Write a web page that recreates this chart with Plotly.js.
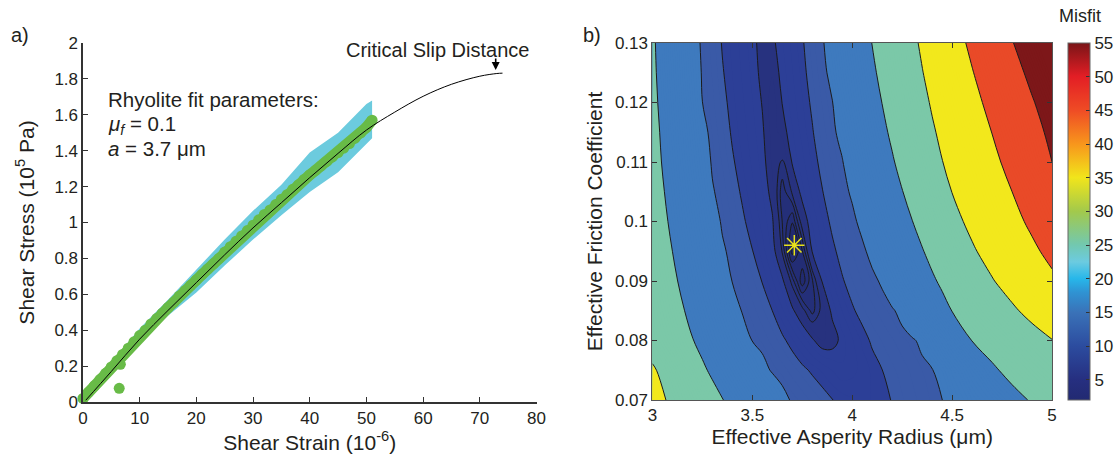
<!DOCTYPE html>
<html><head><meta charset="utf-8">
<script src="https://cdn.plot.ly/plotly-3.0.1.min.js"></script>
<style>html,body{margin:0;padding:0;background:#fff}#chart{width:1117px;height:459px}</style>
</head><body><div id="chart"></div>
<script>
// ---------- Panel a data ----------
const strain = [0,1,2,3,4,5,6,7,8,9,10,11,12,13,14,15,16,17,18,19,20,21,22,23,24,25,26,27,28,29,30,31,32,33,34,35,36,37,38,39,40,41,42,43,44,45,46,47,48,49,50,51];
const stressObs = [0.02,0.055,0.09,0.125,0.16,0.195,0.23,0.265,0.30,0.335,0.37,0.40,0.435,0.465,0.495,0.525,0.555,0.59,0.62,0.65,0.68,0.71,0.74,0.77,0.80,0.835,0.865,0.895,0.925,0.955,0.985,1.015,1.045,1.07,1.10,1.13,1.155,1.185,1.21,1.24,1.265,1.29,1.315,1.34,1.365,1.39,1.415,1.44,1.47,1.50,1.53,1.57];
const bandStrain = [0,5,10,15,20,25,30,35,40,45,50,51];
const bandLower = [0.0,0.17,0.335,0.48,0.61,0.76,0.905,1.04,1.17,1.28,1.44,1.47];
const bandUpper = [0.03,0.22,0.41,0.57,0.74,0.905,1.065,1.21,1.39,1.50,1.66,1.68];
const outlierStrain = [6.4,6.6];
const outlierStress = [0.076,0.21];
const fitStrain = [0.5,5,10,15,20,25,30,35,40,45,50,55,60,65,70,73,74];
const fitStress = [0.01,0.17,0.35,0.51,0.665,0.82,0.97,1.11,1.25,1.385,1.515,1.615,1.703,1.77,1.815,1.83,1.832];
const strainTicks = [0,10,20,30,40,50,60,70,80];

// ---------- Panel b data ----------
const radius = [3.0,3.1,3.2,3.25,3.3,3.35,3.4,3.45,3.5,3.55,3.6,3.65,3.7,3.75,3.8,3.85,3.9,3.95,4.0,4.05,4.1,4.15,4.2,4.25,4.3,4.35,4.4,4.45,4.5,4.6,4.7,4.8,4.9,5.0];
const friction = [0.07,0.075,0.08,0.085,0.09,0.095,0.10,0.105,0.11,0.115,0.12,0.125,0.13];
const misfit = [
 [32.3,28.9,25.4,23.65,21.9,20.17,18.6,16.99,15.4,13.8,12.3,10.7,9.75,9.32,8.88,8.45,8.02,7.77,7.54,7.3,7.54,7.78,8.04,8.43,8.81,9.2,9.59,9.98,11.1,13.5,15.8,18.2,20.5,22.8],
 [30.8,26.9,22.9,20.88,19.1,17.42,15.8,14.11,12.5,10.8,9.75,9.25,8.76,8.27,7.82,7.41,6.99,6.58,6.81,7.21,7.6,7.99,8.37,8.74,9.12,9.5,9.87,11.06,12.7,15.9,19.1,21.7,24.0,26.3],
 [27.2,23.7,20.2,18.47,16.7,15.0,13.3,11.53,9.93,9.37,8.8,8.24,7.58,6.86,6.14,5.47,5.6,6.27,6.93,7.6,8.16,8.54,8.93,9.32,9.71,10.5,12.4,14.38,16.3,20.1,22.5,24.9,27.4,29.8],
 [25.8,22.2,18.6,16.75,15.0,13.14,11.3,9.84,9.23,8.61,8.0,7.09,6.18,5.24,4.3,5.24,6.17,7.01,7.85,8.37,8.82,9.27,9.72,10.71,12.6,14.47,16.4,18.23,20.1,23.1,26.0,29.0,31.9,34.9],
 [24.7,21.0,17.2,15.37,13.5,11.64,9.92,9.27,8.61,7.95,7.06,6.18,4.74,3.16,4.42,6.05,6.94,7.89,8.47,9.01,9.55,10.28,12.1,13.84,15.6,17.4,19.2,20.94,22.7,26.2,29.6,32.7,35.7,38.7],
 [23.8,20.0,16.1,14.19,12.3,10.35,9.43,8.74,8.04,7.23,6.41,4.93,2.78,3.97,6.05,6.87,7.74,8.42,9.01,9.61,10.6,12.43,14.2,16.05,17.9,19.67,21.6,23.46,25.4,29.2,32.5,35.6,38.7,41.9],
 [23.1,19.1,15.2,13.17,11.2,9.7,8.96,8.22,7.51,6.81,6.11,4.48,3.54,5.35,6.57,7.45,8.25,8.9,9.55,10.56,12.4,14.31,16.2,18.05,19.9,21.93,23.9,25.94,28.0,31.6,34.8,38.0,41.3,44.5],
 [22.4,18.4,14.3,12.24,10.2,9.31,8.54,7.81,7.16,6.52,5.7,4.2,5.1,6.33,7.14,7.95,8.68,9.41,10.3,12.24,14.1,16.05,18.0,19.85,21.9,23.95,26.0,28.07,30.1,33.4,36.7,40.0,43.3,46.7],
 [21.9,17.7,13.5,11.43,9.74,8.94,8.14,7.51,6.9,6.3,5.4,4.91,6.08,6.83,7.58,8.34,9.1,9.86,11.6,13.58,15.6,17.52,19.5,21.54,23.6,25.71,27.8,29.88,31.6,35.0,38.4,42.1,46.1,50.0],
 [21.6,17.2,12.9,10.7,9.44,8.61,7.85,7.27,6.69,6.12,5.31,5.65,6.44,7.18,7.91,8.71,9.52,10.8,12.8,14.84,16.9,18.87,20.9,23.01,25.1,27.2,29.3,31.17,33.0,36.5,40.1,43.9,47.7,51.5],
 [21.2,16.7,12.2,10.01,9.16,8.32,7.65,7.09,6.53,5.95,5.2,6.03,6.74,7.45,8.19,9.05,9.91,11.9,13.9,15.97,18.0,20.08,22.2,24.3,26.4,28.52,30.6,32.43,34.3,38.1,41.8,45.7,49.5,53.3],
 [20.9,16.3,11.7,9.79,8.94,8.09,7.49,6.93,6.37,5.76,5.55,6.24,6.96,7.67,8.49,9.39,10.7,12.8,14.9,17.0,19.1,21.24,23.4,25.51,27.7,29.79,31.8,33.74,35.7,39.7,43.6,47.6,51.6,55.6],
 [20.7,16.0,11.3,9.6,8.74,7.92,7.36,6.79,6.23,5.7,5.8,6.45,7.15,7.86,8.75,9.7,11.47,13.6,15.8,17.93,20.1,22.25,24.4,26.58,28.7,30.88,33.0,35.06,37.2,41.3,45.5,49.7,53.8,58.0]
];
const bestRadius = [3.71];
const bestFriction = [0.096];
const misfitTicks = [5,10,15,20,25,30,35,40,45,50,55];
const misfitRange = [2,55];

// band boundaries (z) and their fill colours, for the filled contour
const bandEdges = [3,3.5,4,4.5,5,6,8,10,20,30,40,50];
const bandColors = ['#1f266a','#212a70','#232d75','#242f79','#25317c','#27327f','#2c3f97','#3a5aa7','#3e7abe','#7bc8a8','#f2e81c','#e94a28','#7d1719'];
const fillStart = 2.5, fillEnd = 55, fillSize = 0.5;
const nLev = Math.floor((fillEnd - fillStart) / fillSize + 1e-6) + 1;
const toFrac = z => (z - (fillStart - fillSize / 2)) / (nLev * fillSize);
const fillScale = [];
bandColors.forEach((c, i) => {
  const lo = i === 0 ? 0 : toFrac(bandEdges[i - 1]);
  const hi = i === bandColors.length - 1 ? 1 : toFrac(bandEdges[i]);
  fillScale.push([lo, c], [hi, c]);
});

const jetScale = [
 [0.0,'#222a72'],[0.057,'#262f80'],[0.151,'#2c4c9f'],[0.245,'#3a72b8'],[0.302,'#2f93d3'],
 [0.34,'#27b7ea'],[0.387,'#6ccbe0'],[0.434,'#72c8b0'],[0.528,'#a2c94c'],[0.623,'#f1e51b'],
 [0.717,'#f8961c'],[0.811,'#ef4c25'],[0.906,'#e31e25'],[1.0,'#7a1417']
];

const green = '#68bb47', cyan = '#6ccbde';
const traces = [
  {x: bandStrain, y: bandLower, mode:'lines', line:{width:0, color:cyan}, xaxis:'x', yaxis:'y', hoverinfo:'skip'},
  {x: bandStrain, y: bandUpper, mode:'lines', line:{width:0, color:cyan}, fill:'tonexty', fillcolor:cyan, xaxis:'x', yaxis:'y', hoverinfo:'skip'},
  {x: strain, y: stressObs, mode:'lines+markers', line:{color:green, width:11}, marker:{size:11, color:green}, cliponaxis:false, xaxis:'x', yaxis:'y'},
  {x: outlierStrain, y: outlierStress, mode:'markers', marker:{size:11, color:green}, xaxis:'x', yaxis:'y'},
  {x: fitStrain, y: fitStress, mode:'lines', line:{color:'#000', width:1, shape:'spline'}, xaxis:'x', yaxis:'y'},

  {type:'contour', x: radius, y: friction, z: misfit, xaxis:'x2', yaxis:'y2', autocontour:false,
   contours:{start:fillStart, end:fillEnd, size:fillSize, coloring:'fill', showlines:false},
   line:{width:0}, colorscale: fillScale, showscale:false},
  {type:'contour', x: radius, y: friction, z: misfit, xaxis:'x2', yaxis:'y2', autocontour:false,
   contours:{start:10, end:50, size:10, coloring:'none'}, line:{color:'#1c1c1c', width:1}, showscale:false},
  {type:'contour', x: radius, y: friction, z: misfit, xaxis:'x2', yaxis:'y2', autocontour:false,
   contours:{start:6, end:8, size:2, coloring:'none'}, line:{color:'#1c1c1c', width:1}, showscale:false},
  {type:'contour', x: radius, y: friction, z: misfit, xaxis:'x2', yaxis:'y2', autocontour:false,
   contours:{start:3, end:5, size:0.5, coloring:'none'}, line:{color:'#1c1c1c', width:1}, showscale:false},
  {x: bestRadius, y: bestFriction, mode:'markers', xaxis:'x2', yaxis:'y2',
   marker:{symbol:'asterisk-open', size:17, color:'#e8e21c', line:{color:'#e8e21c', width:1.5}}},
  {x: bestRadius, y: bestFriction, mode:'markers', xaxis:'x2', yaxis:'y2',
   marker:{symbol:'circle', size:4, color:'#e8e21c'}},
  {x: [0], y: [0], mode:'markers', xaxis:'x2', yaxis:'y2', hoverinfo:'skip',
   marker:{size:1, opacity:0, color: misfitRange, cmin: misfitRange[0], cmax: misfitRange[1], colorscale: jetScale, showscale:true,
     colorbar:{thickness:22, thicknessmode:'pixels', len:357, lenmode:'pixels',
       x:1068/1117, xanchor:'left', xpad:0, y:1-400/459, yanchor:'bottom', ypad:0,
       outlinewidth:1, outlinecolor:'#666', tickvals: misfitTicks, ticks:'inside', ticklen:4, tickcolor:'#333',
       tickfont:{size:17}}}}
];

const axBase = {ticks:'inside', ticklen:5, tickcolor:'#333', showline:true, linecolor:'#333', linewidth:1.5,
  showgrid:false, zeroline:false, tickfont:{size:17}};
const layout = {
  width:1117, height:459, margin:{l:0,r:0,t:0,b:0},
  paper_bgcolor:'#fff', plot_bgcolor:'rgba(0,0,0,0)',
  font:{family:'"Liberation Sans", Arial, Helvetica, sans-serif', size:17, color:'#231f20'},
  showlegend:false, hovermode:false,
  xaxis: Object.assign({}, axBase, {domain:[83/1117, 537/1117], range:[0,80], tickvals: strainTicks, anchor:'y',
    title:{text:'Shear Strain (10<sup>-6</sup>)', font:{size:21}, standoff:4}}),
  yaxis: Object.assign({}, axBase, {domain:[1-402/459, 1-43/459], range:[0,2], dtick:0.2, tick0:0, anchor:'x',
    title:{text:'Shear Stress (10<sup>5</sup> Pa)', font:{size:21}, standoff:14}}),
  xaxis2: Object.assign({}, axBase, {domain:[653/1117, 1053/1117], range:[3,5], dtick:0.5, tick0:3, anchor:'y2',
    mirror:'ticks', linewidth:1, linecolor:'#555',
    title:{text:'Effective Asperity Radius (μm)', font:{size:21}, standoff:4}}),
  yaxis2: Object.assign({}, axBase, {domain:[1-400/459, 1-43/459], range:[0.07,0.13], dtick:0.01, tick0:0.07, anchor:'x2',
    mirror:'ticks', linewidth:1, linecolor:'#555',
    title:{text:'Effective Friction Coefficient', font:{size:21}, standoff:6}}),
  annotations:[
    {xref:'paper', yref:'paper', x:9/1117, y:1-35/459, xanchor:'left', yanchor:'middle', text:'a)', showarrow:false, font:{size:20}},
    {xref:'paper', yref:'paper', x:582/1117, y:1-35/459, xanchor:'left', yanchor:'middle', text:'b)', showarrow:false, font:{size:20}},
    {xref:'paper', yref:'paper', x:1081/1117, y:1-16/459, xanchor:'center', yanchor:'middle', text:'Misfit', showarrow:false, font:{size:18}},
    {xref:'paper', yref:'paper', x:106/1117, y:1-99/459, xanchor:'left', yanchor:'middle', text:'Rhyolite fit parameters:', showarrow:false, font:{size:20.5}},
    {xref:'paper', yref:'paper', x:106/1117, y:1-125/459, xanchor:'left', yanchor:'middle', text:'<i>μ<sub>f</sub></i> = 0.1', showarrow:false, font:{size:20.5}},
    {xref:'paper', yref:'paper', x:106/1117, y:1-148/459, xanchor:'left', yanchor:'middle', text:'<i>a</i> = 3.7 μm', showarrow:false, font:{size:20.5}},
    {xref:'paper', yref:'paper', x:438/1117, y:1-50/459, xanchor:'center', yanchor:'middle', text:'Critical Slip Distance', showarrow:false, font:{size:20}},
    {xref:'x', yref:'y', x:72.8, y:1.85, text:'', showarrow:true, arrowhead:2, arrowsize:1, arrowwidth:1.6, arrowcolor:'#000', ax:0, ay:-13}
  ]
};
Plotly.newPlot('chart', traces, layout, {staticPlot:true, displayModeBar:false});
</script></body></html>
